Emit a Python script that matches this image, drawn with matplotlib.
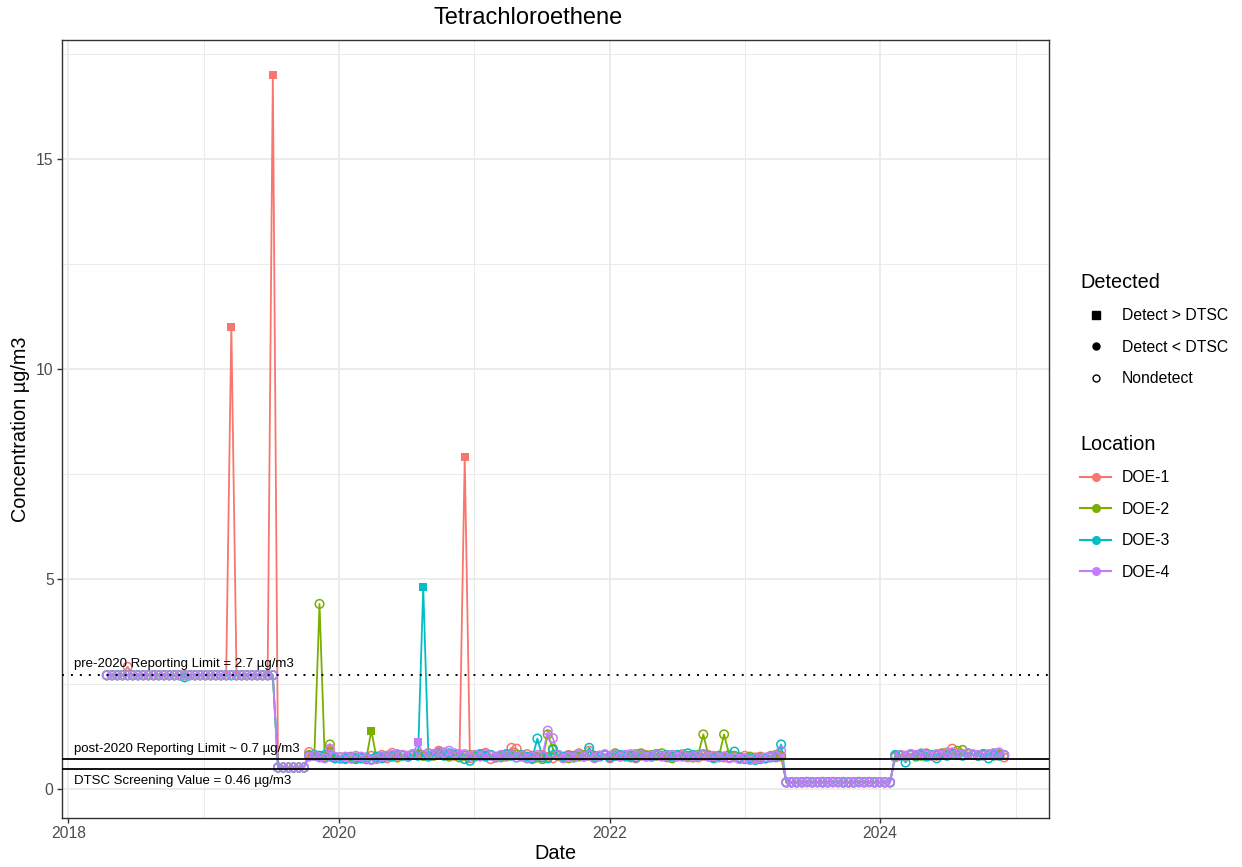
import matplotlib
matplotlib.use("Agg")
import matplotlib.pyplot as plt
import matplotlib.dates as mdates
from matplotlib.lines import Line2D
from matplotlib.ticker import MultipleLocator
import numpy as np
import pandas as pd

plt.rcParams['font.family'] = ['Liberation Sans', 'DejaVu Sans']

# ---------------- data ----------------
SAMPLE_START = '2018-04-15'      # first sampling event
SAMPLE_COUNT = 174               # bi-weekly sampling events
SAMPLE_FREQ = '14D'

LOCATIONS = ['DOE-1', 'DOE-2', 'DOE-3', 'DOE-4']
COLORS = ['#F8766D', '#7CAE00', '#00BFC4', '#C77CFF']

DOE_1 = [
    # 2018-04 .. 2019-07 (pre-2020 reporting limit)
    2.7, 2.7, 2.7, 2.7, 2.9, 2.7, 2.7, 2.7, 2.7, 2.7,
    2.7, 2.7, 2.7, 2.7, 2.7, 2.7, 2.7, 2.7, 2.7, 2.7,
    2.7, 2.7, 2.7, 2.7, 11.0, 2.7, 2.7, 2.7, 2.7, 2.7,
    2.7, 2.7, 17.0,
    0.5, 0.5, 0.5, 0.5, 0.5, 0.5,
    # 2019-10 .. 2023-04
    0.87, 0.8, 0.78, 0.75, 0.9, 0.72, 0.74, 0.7, 0.76, 0.72,
    0.75, 0.7, 0.78, 0.74, 0.8, 0.72, 0.85, 0.78, 0.8, 0.76,
    0.82, 0.8, 0.78, 0.84, 0.82, 0.9, 0.85, 0.8, 0.78, 0.82,
    7.9, 0.72, 0.8, 0.78, 0.85, 0.7, 0.76, 0.74, 0.8, 0.97,
    0.95, 0.78, 0.82, 0.7, 0.76, 0.8, 0.75, 0.72, 0.78, 0.74,
    0.8, 0.76, 0.84, 0.78, 0.9, 0.74, 0.78, 0.8, 0.72, 0.78,
    0.76, 0.8, 0.74, 0.72, 0.78, 0.8, 0.76, 0.82, 0.78, 0.74,
    0.8, 0.78, 0.82, 0.76, 0.8, 0.74, 0.78, 0.8, 0.76, 0.78,
    0.74, 0.8, 0.76, 0.72, 0.78, 0.7, 0.74, 0.76, 0.72, 0.78,
    0.74, 0.76,
    # 2023-04 .. 2024-01
    0.15, 0.14, 0.15, 0.15, 0.15, 0.14, 0.15, 0.15, 0.15, 0.16,
    0.15, 0.15, 0.14, 0.15, 0.15, 0.15, 0.15, 0.14, 0.15, 0.15, 0.15,
    # 2024-02 .. 2024-12
    0.78, 0.8, 0.76, 0.82, 0.78, 0.8, 0.84, 0.8, 0.78, 0.82,
    0.86, 0.95, 0.84, 0.8, 0.82, 0.8, 0.78, 0.82, 0.8, 0.84, 0.8, 0.74,
]

DOE_2 = [
    2.7, 2.7, 2.7, 2.7, 2.7, 2.7, 2.7, 2.7, 2.7, 2.7,
    2.7, 2.7, 2.7, 2.7, 2.7, 2.7, 2.7, 2.7, 2.7, 2.7,
    2.7, 2.7, 2.7, 2.7, 2.7, 2.7, 2.7, 2.7, 2.7, 2.7,
    2.7, 2.7, 2.7,
    0.5, 0.5, 0.5, 0.5, 0.5, 0.5,
    0.8, 0.78, 4.4, 0.75, 1.05, 0.72, 0.74, 0.72, 0.7, 0.74,
    0.72, 0.7, 1.38, 0.72, 0.74, 0.76, 0.78, 0.74, 0.8, 0.78,
    0.8, 0.82, 0.78, 0.84, 0.78, 0.86, 0.8, 0.76, 0.8, 0.74,
    0.78, 0.8, 0.76, 0.82, 0.78, 0.8, 0.74, 0.78, 0.76, 0.82,
    0.8, 0.76, 0.72, 0.78, 0.74, 0.7, 1.29, 0.95, 0.78, 0.74,
    0.72, 0.78, 0.76, 0.8, 0.78, 0.74, 0.78, 0.8, 0.76, 0.84,
    0.78, 0.8, 0.76, 0.82, 0.84, 0.76, 0.8, 0.78, 0.84, 0.76,
    0.72, 0.8, 0.76, 0.78, 0.74, 0.8, 1.29, 0.78, 0.74, 0.76,
    1.29, 0.8, 0.78, 0.74, 0.72, 0.76, 0.7, 0.74, 0.72, 0.76,
    0.8, 0.78,
    0.15, 0.15, 0.14, 0.15, 0.15, 0.15, 0.15, 0.16, 0.15, 0.15,
    0.15, 0.14, 0.15, 0.15, 0.16, 0.15, 0.15, 0.15, 0.15, 0.14, 0.15,
    0.76, 0.8, 0.78, 0.8, 0.76, 0.78, 0.82, 0.78, 0.8, 0.84,
    0.8, 0.82, 0.9, 0.92, 0.84, 0.8, 0.78, 0.82, 0.8, 0.78, 0.82, 0.8,
]

DOE_3 = [
    2.7, 2.7, 2.7, 2.7, 2.7, 2.7, 2.7, 2.7, 2.7, 2.7,
    2.7, 2.7, 2.7, 2.7, 2.7, 2.65, 2.7, 2.7, 2.7, 2.7,
    2.7, 2.7, 2.7, 2.7, 2.7, 2.7, 2.7, 2.7, 2.7, 2.7,
    2.7, 2.7, 2.7,
    0.5, 0.5, 0.5, 0.5, 0.5, 0.5,
    0.78, 0.8, 0.78, 0.8, 0.76, 0.72, 0.7, 0.72, 0.74, 0.7,
    0.72, 0.74, 0.7, 0.76, 0.72, 0.78, 0.76, 0.8, 0.78, 0.74,
    0.8, 0.78, 4.8, 0.76, 0.8, 0.82, 0.78, 0.84, 0.8, 0.78,
    0.7, 0.66, 0.78, 0.82, 0.76, 0.8, 0.74, 0.78, 0.82, 0.78,
    0.74, 0.8, 0.76, 0.72, 1.19, 0.74, 0.72, 0.92, 0.8, 0.76,
    0.78, 0.74, 0.8, 0.76, 0.97, 0.78, 0.76, 0.8, 0.74, 0.78,
    0.8, 0.76, 0.78, 0.74, 0.8, 0.78, 0.76, 0.82, 0.78, 0.8,
    0.76, 0.8, 0.78, 0.84, 0.8, 0.78, 0.82, 0.76, 0.72, 0.78,
    0.76, 0.74, 0.88, 0.74, 0.7, 0.72, 0.68, 0.7, 0.72, 0.74,
    0.76, 1.05,
    0.14, 0.15, 0.15, 0.15, 0.16, 0.15, 0.15, 0.14, 0.15, 0.15,
    0.15, 0.15, 0.15, 0.14, 0.15, 0.15, 0.16, 0.15, 0.15, 0.15, 0.14,
    0.8, 0.78, 0.62, 0.8, 0.78, 0.82, 0.76, 0.8, 0.72, 0.8,
    0.78, 0.82, 0.8, 0.78, 0.84, 0.8, 0.78, 0.82, 0.72, 0.8, 0.78, 0.8,
]

DOE_4 = [
    2.7, 2.7, 2.7, 2.7, 2.7, 2.7, 2.7, 2.7, 2.7, 2.7,
    2.7, 2.7, 2.7, 2.7, 2.7, 2.7, 2.7, 2.7, 2.7, 2.7,
    2.7, 2.7, 2.7, 2.7, 2.7, 2.7, 2.7, 2.7, 2.7, 2.7,
    2.7, 2.7, 2.7,
    0.5, 0.5, 0.5, 0.5, 0.5, 0.5,
    0.76, 0.78, 0.74, 0.72, 0.95, 0.76, 0.74, 0.76, 0.72, 0.78,
    0.76, 0.72, 0.68, 0.7, 0.76, 0.78, 0.8, 0.82, 0.8, 0.78,
    0.82, 1.1, 0.8, 0.84, 0.82, 0.88, 0.86, 0.9, 0.84, 0.8,
    0.82, 0.78, 0.8, 0.76, 0.82, 0.78, 0.74, 0.8, 0.78, 0.8,
    0.74, 0.78, 0.72, 0.76, 0.8, 0.78, 1.38, 1.2, 0.8, 0.72,
    0.76, 0.74, 0.8, 0.76, 0.8, 0.72, 0.78, 0.82, 0.78, 0.8,
    0.76, 0.8, 0.82, 0.78, 0.8, 0.76, 0.78, 0.8, 0.76, 0.78,
    0.8, 0.76, 0.78, 0.74, 0.76, 0.78, 0.8, 0.76, 0.78, 0.74,
    0.76, 0.72, 0.74, 0.7, 0.72, 0.68, 0.7, 0.72, 0.74, 0.76,
    0.78, 0.9,
    0.15, 0.15, 0.15, 0.14, 0.15, 0.15, 0.15, 0.15, 0.14, 0.15,
    0.15, 0.16, 0.15, 0.15, 0.15, 0.14, 0.15, 0.15, 0.15, 0.15, 0.15,
    0.74, 0.8, 0.78, 0.82, 0.8, 0.84, 0.8, 0.78, 0.82, 0.8,
    0.84, 0.86, 0.82, 0.8, 0.84, 0.82, 0.8, 0.78, 0.82, 0.84, 0.86, 0.8,
]

# sampling-event indices by detection status (all others are nondetects)
DETECT_ABOVE = {'DOE-1': [24, 32, 69], 'DOE-2': [51], 'DOE-3': [61], 'DOE-4': [60]}
DETECT_BELOW = {'DOE-1': [], 'DOE-2': [44, 47], 'DOE-3': [45, 58], 'DOE-4': []}

PRE2020_RL = 2.7
POST2020_RL = 0.7
DTSC_SV = 0.46

# ---------------- figure ----------------
W, H = 1242, 867
fig = plt.figure(figsize=(W / 100, H / 100), dpi=100)
ax = fig.add_axes([62 / W, 1 - 818 / H, (1049 - 62) / W, (818 - 40) / H])

dates = pd.date_range(SAMPLE_START, periods=SAMPLE_COUNT, freq=SAMPLE_FREQ)
series = {'DOE-1': DOE_1, 'DOE-2': DOE_2, 'DOE-3': DOE_3, 'DOE-4': DOE_4}

for k, (loc, col) in enumerate(zip(LOCATIONS, COLORS)):
    ax.plot(dates, series[loc], color=col, lw=1.3, zorder=2 + k * 0.01)

for k, (loc, col) in enumerate(zip(LOCATIONS, COLORS)):
    v = np.asarray(series[loc], dtype=float)
    above = np.zeros(len(v), bool)
    above[DETECT_ABOVE[loc]] = True
    below = np.zeros(len(v), bool)
    below[DETECT_BELOW[loc]] = True
    nd = ~(above | below)
    z = 3 + k * 0.01
    ax.scatter(dates[nd], v[nd], s=38, facecolors='none', edgecolors=col,
               linewidths=1.1, zorder=z)
    ax.scatter(dates[below], v[below], s=26, color=col, marker='o', zorder=z)
    ax.scatter(dates[above], v[above], s=36, color=col, marker='s', zorder=z,
               linewidths=0)

# reference lines
ax.axhline(PRE2020_RL, color='black', lw=1.4, ls=(0, (1, 3.6)), zorder=5)
ax.axhline(POST2020_RL, color='black', lw=1.3, zorder=5)
ax.axhline(DTSC_SV, color='black', lw=1.3, zorder=5)

# annotations
xtext = pd.Timestamp('2018-01-17')
ax.annotate('pre-2020 Reporting Limit = 2.7 µg/m3', xy=(xtext, PRE2020_RL),
            xytext=(0, 4), textcoords='offset points', ha='left', va='bottom',
            fontsize=9.5, zorder=6)
ax.annotate('post-2020 Reporting Limit ~ 0.7 µg/m3', xy=(xtext, POST2020_RL),
            xytext=(0, 3), textcoords='offset points', ha='left', va='bottom',
            fontsize=9.5, zorder=6)
ax.annotate('DTSC Screening Value = 0.46 µg/m3', xy=(xtext, DTSC_SV),
            xytext=(0, -4), textcoords='offset points', ha='left', va='top',
            fontsize=9.5, zorder=6)

# scales (ggplot-like 5% expansion)
allv = np.concatenate([DOE_1, DOE_2, DOE_3, DOE_4])
ymin, ymax = allv.min(), allv.max()
ax.set_ylim(ymin - 0.05 * (ymax - ymin), ymax + 0.05 * (ymax - ymin))
span = dates[-1] - dates[0]
ax.set_xlim(dates[0] - 0.05 * span, dates[-1] + 0.05 * span)

ax.xaxis.set_major_locator(mdates.YearLocator(base=2))
ax.xaxis.set_minor_locator(mdates.YearLocator(base=1))
ax.xaxis.set_major_formatter(mdates.DateFormatter('%Y'))
ax.yaxis.set_major_locator(MultipleLocator(5))
ax.yaxis.set_minor_locator(MultipleLocator(2.5))

ax.grid(True, which='major', color='#EBEBEB', lw=1.3, zorder=0)
ax.grid(True, which='minor', color='#EBEBEB', lw=0.7, zorder=0)
ax.set_axisbelow(True)
for s in ax.spines.values():
    s.set_color('#333333')
    s.set_linewidth(1.0)
ax.tick_params(which='major', direction='out', length=3.5, width=1.0,
               color='#333333', labelcolor='#4D4D4D', labelsize=11.3, pad=2.5)
ax.tick_params(which='minor', length=0)

ax.set_xlabel('Date', fontsize=14.3, labelpad=2)
ax.set_ylabel('Concentration µg/m3', fontsize=14.3, labelpad=4)
fig.text(528 / W, 1 - 18 / H, 'Tetrachloroethene', fontsize=17, ha='center', va='center')

# legends
h_det = [
    Line2D([], [], marker='s', color='black', ls='none', markersize=5.5),
    Line2D([], [], marker='o', color='black', ls='none', markersize=5),
    Line2D([], [], marker='o', mfc='none', mec='black', ls='none', markersize=5, mew=1),
]
leg_kw = dict(loc='upper left', frameon=False, fontsize=11.3, title_fontsize=14.3,
              alignment='left', handlelength=2.0, handletextpad=0.68,
              labelspacing=1.05, borderpad=0, borderaxespad=0)
leg1 = fig.legend(h_det, ['Detect > DTSC', 'Detect < DTSC', 'Nondetect'], title='Detected',
                  bbox_to_anchor=(1080 / W, 1 - 273 / H), **leg_kw)
h_loc = [Line2D([], [], color=c, lw=1.5, marker='o', markersize=5.5) for c in COLORS]
leg2 = fig.legend(h_loc, LOCATIONS, title='Location',
                  bbox_to_anchor=(1080 / W, 1 - 435 / H), **leg_kw)

fig.savefig('out.png', dpi=100)
